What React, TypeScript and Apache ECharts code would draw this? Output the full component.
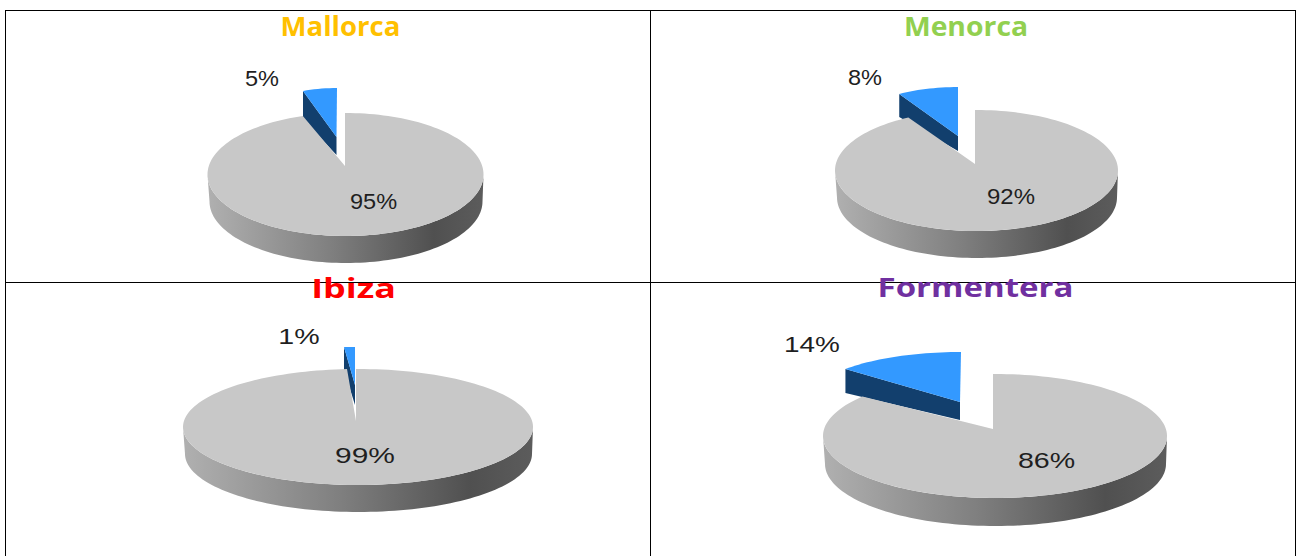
import React, { useEffect, useRef } from "react";
import * as echarts from "echarts";

const islands = ["Mallorca", "Menorca", "Ibiza", "Formentera"];
const shareValues = [5, 8, 1, 14];
const restValues = [95, 92, 99, 86];
const titleColors = ["#ffc000", "#92d050", "#ff0000", "#7030a0"];

// Projection of each disc onto the page (layout only).
const discs = [
  { cx: 345.5, cy: 174.5, rx: 138, ry: 61.5, apexX: 345, apexY: 166, depth: 27 },
  { cx: 976.5, cy: 170.5, rx: 141.5, ry: 60.5, apexX: 975, apexY: 164, depth: 27 },
  { cx: 358, cy: 427, rx: 175, ry: 58, apexX: 356, apexY: 421, depth: 27 },
  { cx: 995, cy: 436, rx: 172, ry: 62, apexX: 993, apexY: 429, depth: 28 },
];
const wedges = [
  { cx: 337, cy: 149, rx: 110, ry: 61, apexX: 336.5, apexY: 137, near: 18, far: 28 },
  { cx: 958, cy: 143, rx: 122, ry: 56, apexX: 958, apexY: 136, near: 15, far: 23 },
  { cx: 355, cy: 405, rx: 175, ry: 58, apexX: 355, apexY: 385, near: 20, far: 23 },
  { cx: 961, cy: 399, rx: 150, ry: 47, apexX: 960, apexY: 402, near: 18, far: 24 },
];
const labelPositions = [
  { share: [262, 78], rest: [373.5, 201], shareScale: 1.07, restScale: 1.07 },
  { share: [865, 77], rest: [1011, 196], shareScale: 1.07, restScale: 1.09 },
  { share: [299, 336], rest: [365, 455], shareScale: 1.3, restScale: 1.36 },
  { share: [812, 344], rest: [1046.5, 460], shareScale: 1.27, restScale: 1.3 },
];
const titlePositions = [
  { x: 340.5, y: 26, scale: 1.06 },
  { x: 966, y: 26, scale: 1.09 },
  { x: 353.5, y: 288, scale: 1.38 },
  { x: 975.5, y: 287, scale: 1.27 },
];

const FONT = "'Liberation Sans', sans-serif";
const TITLE_FONT = "'Open Sans', sans-serif";

type Oval = { cx: number; cy: number; rx: number; ry: number };
const at = (o: Oval, deg: number, dy = 0): number[] => {
  const a = (deg * Math.PI) / 180;
  return [o.cx + o.rx * Math.sin(a), o.cy - o.ry * Math.cos(a) + dy];
};
const arc = (o: Oval, from: number, to: number, dy = 0): number[][] => {
  const pts: number[][] = [];
  const n = Math.max(2, Math.ceil(Math.abs(to - from) / 2));
  for (let i = 0; i <= n; i++) pts.push(at(o, from + ((to - from) * i) / n, dy));
  return pts;
};

const label = (text: string, pos: number[], scale: number) => ({
  type: "text",
  x: pos[0],
  y: pos[1],
  scaleX: scale,
  z2: 10,
  style: {
    text,
    fill: "#1f1f1f",
    font: `22px ${FONT}`,
    textAlign: "center",
    textVerticalAlign: "middle",
  },
});

const makeRender = (island: number) => (params: any, api: any) => {
  const value = api.value(0) as number;
  const total = shareValues[island] + restValues[island];
  const sweep = (value / total) * 360;
  const pos = labelPositions[island];
  if (params.dataIndex === 0) {
    const w = wedges[island];
    const tip = at(w, 360 - sweep);
    const top = [[w.apexX, w.apexY], ...arc(w, 360, 360 - sweep)];
    return {
      type: "group",
      children: [
        {
          type: "polygon",
          shape: {
            points: [
              [w.apexX, w.apexY],
              tip,
              [tip[0], tip[1] + w.far],
              [w.apexX, w.apexY + w.near],
            ],
          },
          style: { fill: "#123f6d" },
        },
        { type: "polygon", shape: { points: top }, style: { fill: "#3399ff" } },
        label(`${value}%`, pos.share, pos.shareScale),
      ],
    };
  }
  const d = discs[island];
  const bottom = { ...d, rx: d.rx - 1.5, cx: d.cx + 0.5 };
  const wall = [...arc(d, 90, 270), ...arc(bottom, 270, 90, d.depth)];
  const top = [[d.apexX, d.apexY], [d.apexX, d.cy - d.ry], ...arc(d, 0, sweep)];
  return {
    type: "group",
    children: [
      {
        type: "polygon",
        shape: { points: wall },
        style: {
          fill: new echarts.graphic.LinearGradient(1, 0, 0, 0, [
            { offset: 0, color: "#5c5c5c" },
            { offset: 0.18, color: "#505050" },
            { offset: 0.55, color: "#7f7f7f" },
            { offset: 1, color: "#b0b0b0" },
          ]),
        },
      },
      { type: "polygon", shape: { points: top }, style: { fill: "#c8c8c8" } },
      label(`${value}%`, pos.rest, pos.restScale),
    ],
  };
};

const ruleLines = [
  [5, 10.5, 1296, 10.5],
  [5, 282.5, 1296, 282.5],
  [5.5, 10, 5.5, 556],
  [650.5, 10, 650.5, 556],
  [1295.5, 10, 1295.5, 556],
];

export default function App() {
  const ref = useRef<HTMLDivElement>(null);
  useEffect(() => {
    if (!ref.current) return;
    document.body.style.margin = "0";
    const chart = echarts.init(ref.current, undefined, { renderer: "svg" });
    chart.setOption({
      animation: false,
      backgroundColor: "#ffffff",
      tooltip: { show: false },
      graphic: [
        ...ruleLines.map(([x1, y1, x2, y2]) => ({
          type: "line",
          z: 1,
          shape: { x1, y1, x2, y2 },
          style: { stroke: "#000000", lineWidth: 1 },
        })),
        ...islands.map((name, i) => ({
          type: "text",
          z: 20,
          x: titlePositions[i].x,
          y: titlePositions[i].y,
          scaleX: titlePositions[i].scale,
          style: {
            text: name,
            fill: titleColors[i],
            font: `bold 26px ${TITLE_FONT}`,
            textAlign: "center",
            textVerticalAlign: "middle",
          },
        })),
      ],
      series: islands.map((name, i) => ({
        type: "custom",
        name,
        coordinateSystem: "none",
        z: 5,
        silent: true,
        renderItem: makeRender(i),
        data: [[shareValues[i]], [restValues[i]]],
      })),
    });
    return () => chart.dispose();
  }, []);
  return (
    <div
      ref={ref}
      style={{ position: "absolute", left: 0, top: 0, width: 1297, height: 556 }}
    />
  );
}
